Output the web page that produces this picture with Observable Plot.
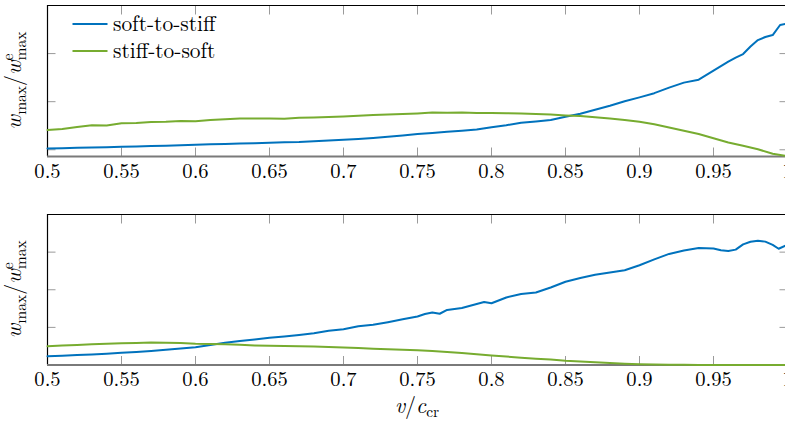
<!DOCTYPE html>
<html><head><meta charset="utf-8">
<script src="https://cdn.jsdelivr.net/npm/d3@7"></script>
<script src="https://cdn.jsdelivr.net/npm/@observablehq/plot@0.6"></script>
<style>
html,body{margin:0;padding:0;background:#fff;overflow:hidden;width:785px;height:424px}
#chart{width:785px;height:424px;overflow:hidden}
#chart svg{display:block;max-width:none !important}
</style></head><body><div id="chart"></div>
<script>
const seriesNames = ["soft-to-stiff", "stiff-to-soft"];
const seriesColors = ["#0072BD", "#77AC30"];
const xTicks = [0.5, 0.55, 0.6, 0.65, 0.7, 0.75, 0.8, 0.85, 0.9, 0.95, 1];
const xTickLabels = ["0.5", "0.55", "0.6", "0.65", "0.7", "0.75", "0.8", "0.85", "0.9", "0.95", "1"];
const xLabelParts = ["v", "/", "c", "cr"];
const yLabelParts = ["w", "max", "/", "w", "e", "max"];

// Top panel, soft-to-stiff
const topBlueX = [0.50,0.51,0.52,0.53,0.54,0.55,0.56,0.57,0.58,0.59,0.60,0.61,0.62,0.63,0.64,0.65,0.66,0.67,0.68,0.69,0.70,0.71,0.72,0.73,0.74,0.75,0.76,0.77,0.78,0.79,0.80,0.81,0.82,0.83,0.84,0.85,0.86,0.87,0.88,0.89,0.90,0.91,0.92,0.93,0.94,0.945,0.95,0.955,0.96,0.965,0.97,0.975,0.98,0.985,0.99,0.995,1.00];
const topBlueY = [1.027,1.033,1.042,1.048,1.054,1.063,1.069,1.077,1.083,1.094,1.104,1.113,1.121,1.129,1.138,1.146,1.156,1.163,1.177,1.192,1.208,1.225,1.246,1.271,1.296,1.327,1.348,1.375,1.396,1.421,1.469,1.510,1.563,1.590,1.619,1.688,1.750,1.833,1.917,2.010,2.090,2.177,2.292,2.396,2.458,2.552,2.646,2.740,2.833,2.917,2.990,3.146,3.281,3.344,3.385,3.594,3.625];
// Top panel, stiff-to-soft
const topGreenX = [0.50,0.51,0.52,0.53,0.54,0.55,0.56,0.57,0.58,0.59,0.60,0.61,0.62,0.63,0.64,0.65,0.66,0.67,0.68,0.69,0.70,0.71,0.72,0.73,0.74,0.75,0.76,0.77,0.78,0.79,0.80,0.81,0.82,0.83,0.84,0.85,0.86,0.87,0.88,0.89,0.90,0.91,0.92,0.93,0.94,0.95,0.96,0.97,0.98,0.99,1.00];
const topGreenY = [1.410,1.431,1.473,1.510,1.504,1.552,1.558,1.577,1.583,1.598,1.594,1.619,1.635,1.650,1.652,1.652,1.646,1.667,1.673,1.681,1.694,1.708,1.723,1.733,1.744,1.756,1.773,1.771,1.775,1.765,1.765,1.758,1.756,1.744,1.733,1.715,1.702,1.677,1.650,1.619,1.583,1.531,1.465,1.396,1.327,1.240,1.150,1.083,1.010,0.917,0.865];
// Bottom panel, soft-to-stiff
const botBlueX = [0.50,0.51,0.52,0.53,0.54,0.55,0.56,0.57,0.58,0.59,0.60,0.61,0.62,0.63,0.64,0.65,0.66,0.67,0.68,0.69,0.70,0.71,0.72,0.73,0.74,0.75,0.755,0.76,0.765,0.77,0.78,0.79,0.795,0.80,0.81,0.82,0.83,0.84,0.85,0.86,0.87,0.88,0.89,0.90,0.91,0.92,0.93,0.94,0.95,0.955,0.96,0.965,0.97,0.975,0.98,0.985,0.99,0.994,1.00];
const botBlueY = [0.234,0.247,0.263,0.279,0.301,0.324,0.346,0.372,0.404,0.439,0.473,0.532,0.593,0.638,0.678,0.723,0.758,0.798,0.846,0.912,0.952,1.029,1.069,1.138,1.215,1.290,1.356,1.396,1.362,1.463,1.516,1.622,1.676,1.641,1.795,1.888,1.928,2.061,2.213,2.314,2.399,2.460,2.519,2.652,2.806,2.952,3.045,3.109,3.098,3.051,3.029,3.066,3.205,3.277,3.301,3.279,3.191,3.090,3.197];
// Bottom panel, stiff-to-soft
const botGreenX = [0.50,0.51,0.52,0.53,0.54,0.55,0.56,0.57,0.58,0.59,0.60,0.61,0.62,0.63,0.64,0.65,0.66,0.67,0.68,0.69,0.70,0.71,0.72,0.73,0.74,0.75,0.76,0.77,0.78,0.79,0.80,0.81,0.82,0.83,0.84,0.85,0.86,0.87,0.88,0.89,0.90,0.91,0.92,0.93,0.94,0.95,0.96,0.97,0.98,0.99,1.00];
const botGreenY = [0.500,0.519,0.532,0.553,0.566,0.577,0.588,0.596,0.593,0.582,0.566,0.561,0.551,0.535,0.521,0.511,0.505,0.497,0.492,0.481,0.465,0.449,0.431,0.418,0.404,0.394,0.370,0.343,0.316,0.285,0.253,0.226,0.194,0.168,0.146,0.114,0.093,0.072,0.051,0.035,0.021,0.013,0.008,0.005,0.003,0.002,0.001,0.001,0.000,0.000,0.000];

const topYDomain = [0.86, 4];
const botYDomain = [0, 4];
const yTicks = [1, 2, 3];

const FONT = "'Latin Modern Roman', 'Liberation Serif', serif";

function rows(xs, ys, name) { return xs.map((x, i) => ({x, y: ys[i], s: name})); }

function panel({data, yDomain, height, marginTop, marginBottom}) {
  return Plot.plot({
    width: 800, height, marginLeft: 47, marginRight: 13, marginTop, marginBottom,
    x: {domain: [0.5, 1]},
    y: {domain: yDomain},
    color: {domain: seriesNames, range: seriesColors},
    style: {fontFamily: FONT, fontSize: "20.6px", color: "#000", background: "#fff", overflow: "visible", maxWidth: "none"},
    marks: [
      Plot.axisX({ticks: xTicks, tickSize: 0, tickPadding: 6.5, tickFormat: d => xTickLabels[xTicks.indexOf(d)], label: null, fontSize: 20.6}),
      Plot.axisX({ticks: xTicks, tickSize: -8.5, tickFormat: () => "", label: null, stroke: "#9a9a9a"}),
      Plot.axisX({anchor: "top", ticks: xTicks, tickSize: -8.5, tickFormat: () => "", label: null, stroke: "#9a9a9a"}),
      Plot.axisY({anchor: "left", ticks: yTicks, tickSize: -8.5, tickFormat: () => "", label: null, stroke: "#9a9a9a"}),
      Plot.axisY({anchor: "right", ticks: yTicks, tickSize: -8.5, tickFormat: () => "", label: null, stroke: "#9a9a9a"}),
      Plot.ruleY([yDomain[1]], {stroke: "#000", strokeWidth: 1}),
      Plot.ruleX([0.5], {stroke: "#000", strokeWidth: 1.2}),
      Plot.ruleY([yDomain[0]], {stroke: "#7a7a7a", strokeWidth: 2}),
      Plot.line(data, {x: "x", y: "y", z: "s", stroke: "s", strokeWidth: 2, curve: "linear"})
    ]
  });
}

function yLabel(svg, cy) {
  const t = d3.select(svg).append("text")
    .attr("transform", `translate(21,${cy}) rotate(-90)`)
    .attr("text-anchor", "middle").attr("font-size", 22).attr("fill", "#000");
  t.append("tspan").attr("font-style", "italic").text(yLabelParts[0]);
  t.append("tspan").attr("font-size", 15.5).attr("dy", 5).text(yLabelParts[1]);
  t.append("tspan").attr("dy", -5).text(yLabelParts[2]);
  t.append("tspan").attr("font-style", "italic").text(yLabelParts[3]);
  t.append("tspan").attr("font-size", 15.5).attr("dy", -8).text(yLabelParts[4]);
  t.append("tspan").attr("font-size", 15.5).attr("dx", -6.9).attr("dy", 13).text(yLabelParts[5]);
}

const topSvg = panel({
  data: [...rows(topBlueX, topBlueY, seriesNames[0]), ...rows(topGreenX, topGreenY, seriesNames[1])],
  yDomain: topYDomain, height: 190, marginTop: 5, marginBottom: 34
});
const botSvg = panel({
  data: [...rows(botBlueX, botBlueY, seriesNames[0]), ...rows(botGreenX, botGreenY, seriesNames[1])],
  yDomain: botYDomain, height: 234, marginTop: 24, marginBottom: 59.5
});

yLabel(topSvg, 80.5);
yLabel(botSvg, 99.3);

// legend
const lg = d3.select(topSvg).append("g").attr("font-size", 21.4).attr("text-anchor", "start");
seriesNames.forEach((n, i) => {
  const y = 24 + i * 27;
  lg.append("line").attr("x1", 72.5).attr("x2", 107.5).attr("y1", y).attr("y2", y)
    .attr("stroke", seriesColors[i]).attr("stroke-width", 2);
  lg.append("text").attr("x", 113).attr("y", y + 6.7).attr("text-anchor", "start").attr("fill", "#000").text(n);
});

// x label
const xl = d3.select(botSvg).append("text")
  .attr("x", 417).attr("y", 223).attr("text-anchor", "middle")
  .attr("font-size", 22).attr("fill", "#000");
xl.append("tspan").attr("font-style", "italic").text(xLabelParts[0]);
xl.append("tspan").text(xLabelParts[1]);
xl.append("tspan").attr("font-style", "italic").text(xLabelParts[2]);
xl.append("tspan").attr("font-size", 15.5).attr("dy", 4).text(xLabelParts[3]);

for (const s of [topSvg, botSvg]) {
  s.style.maxWidth = "none";
  d3.select(s).selectAll("text").style("font-family", FONT);
}

const chart = document.getElementById("chart");
chart.append(topSvg, botSvg);
</script>
</body></html>
